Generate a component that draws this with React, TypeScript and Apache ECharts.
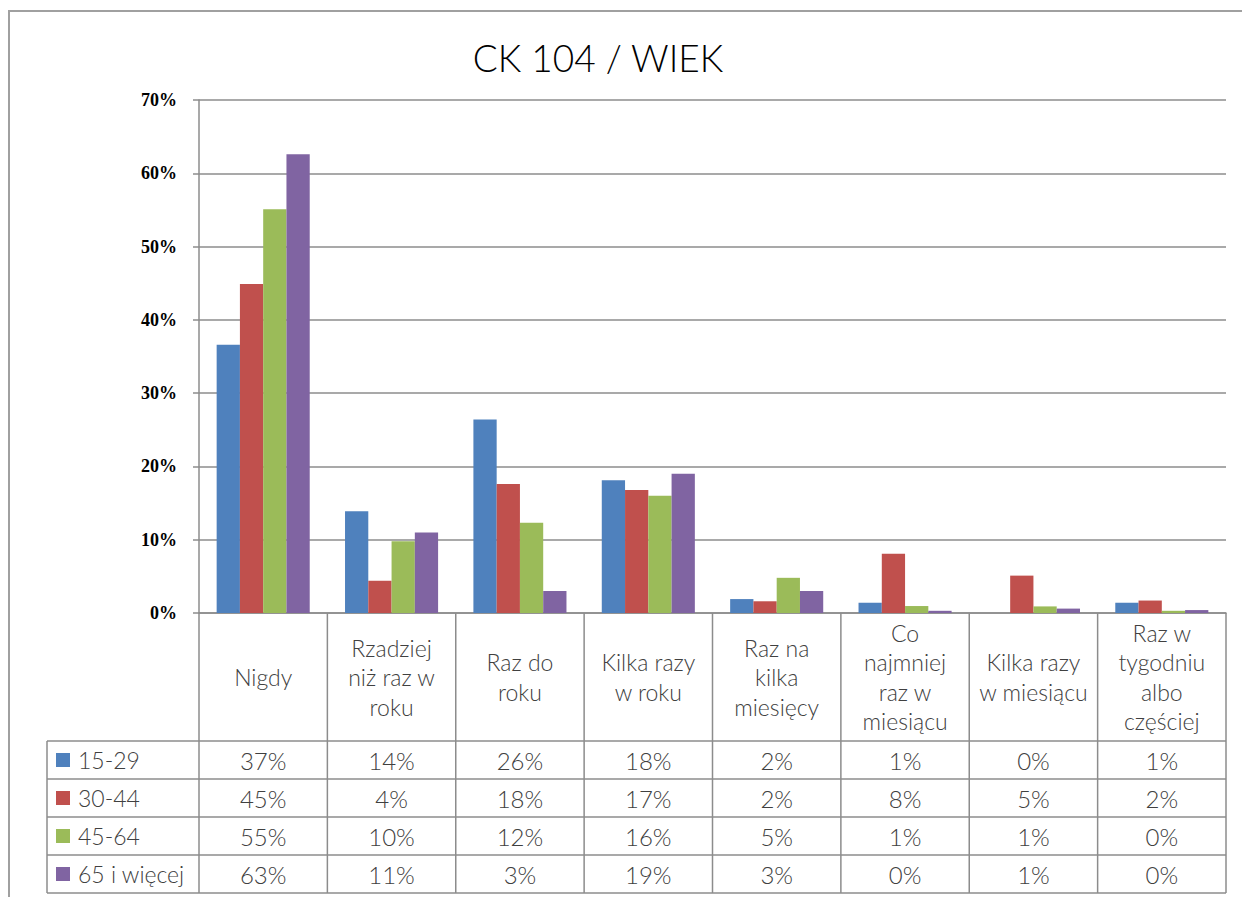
import React, { useEffect, useRef } from "react";
import * as echarts from "echarts";

const title = "CK 104 / WIEK";
const categories = [
  "Nigdy",
  "Rzadziej\nniż raz w\nroku",
  "Raz do\nroku",
  "Kilka razy\nw roku",
  "Raz na\nkilka\nmiesięcy",
  "Co\nnajmniej\nraz w\nmiesiącu",
  "Kilka razy\nw miesiącu",
  "Raz w\ntygodniu\nalbo\nczęściej",
];
const seriesNames = ["15-29", "30-44", "45-64", "65 i więcej"];
const seriesColors = ["#4F81BD", "#C0504D", "#9BBB59", "#8064A2"];
const values15_29 = [36.6, 13.9, 26.4, 18.1, 1.9, 1.4, 0, 1.4];
const values30_44 = [44.9, 4.4, 17.6, 16.8, 1.6, 8.1, 5.1, 1.7];
const values45_64 = [55.1, 9.8, 12.3, 16.0, 4.8, 0.95, 0.9, 0.3];
const values65plus = [62.6, 11.0, 3.0, 19.0, 3.0, 0.3, 0.6, 0.4];
const allValues = [values15_29, values30_44, values45_64, values65plus];
const yMin = 0;
const yMax = 70;
const yInterval = 10;

const W = 1242;
const H = 897;
const GRID_LEFT = 199;
const GRID_RIGHT = 1226;
const GRID_TOP = 100;
const GRID_BOTTOM = 613;
const HEADER_BOTTOM = 741;
const ROW_H = 38;
const LEGEND_LEFT = 47;
const LINE_COLOR = "#8c8c8c";
const TEXT_COLOR = "#404040";
const TABLE_FONT = "Lato";

export default function App() {
  const ref = useRef<HTMLDivElement>(null);
  useEffect(() => {
    if (!ref.current) return;
    const chart = echarts.init(ref.current, undefined, { renderer: "svg" });
    const option: any = {
      animation: false,
      backgroundColor: "#ffffff",
      grid: {
        left: GRID_LEFT,
        right: W - GRID_RIGHT,
        top: GRID_TOP,
        bottom: H - GRID_BOTTOM,
        containLabel: false,
      },
      xAxis: {
        type: "category",
        data: categories,
        axisLine: { show: true, lineStyle: { color: LINE_COLOR, width: 1.5 } },
        axisTick: { show: false },
        axisLabel: {
          interval: 0,
          margin: 64,
          verticalAlign: "middle",
          align: "center",
          fontFamily: TABLE_FONT,
          fontWeight: 300,
          fontSize: 23,
          lineHeight: 29.5,
          color: TEXT_COLOR,
        },
      },
      yAxis: {
        type: "value",
        min: yMin,
        max: yMax,
        interval: yInterval,
        axisLine: { show: true, lineStyle: { color: LINE_COLOR, width: 1.5 } },
        axisTick: { show: true, length: 6, lineStyle: { color: LINE_COLOR, width: 1.5 } },
        splitLine: { show: true, lineStyle: { color: LINE_COLOR, width: 1.5 } },
        axisLabel: {
          formatter: (v: number) => `${v}%`,
          fontFamily: "Liberation Serif",
          fontWeight: "bold",
          fontSize: 18,
          color: "#000000",
          margin: 22,
        },
      },
      series: seriesNames.map((name, i) => ({
        name,
        type: "bar",
        data: allValues[i],
        barGap: "0%",
        barCategoryGap: "27.5%",
        itemStyle: { color: seriesColors[i] },
      })),
    };
    chart.setOption(option);

    const centers = categories.map((_, i) =>
      chart.convertToPixel({ xAxisIndex: 0 }, i) as number
    );
    const band = (GRID_RIGHT - GRID_LEFT) / categories.length;
    const tableBottom = HEADER_BOTTOM + ROW_H * seriesNames.length;
    const lineStyle = { stroke: LINE_COLOR, lineWidth: 1.5 };
    const graphics: any[] = [];
    graphics.push({
      type: "rect",
      silent: true,
      shape: { x: 9, y: 11, width: W + 20, height: H + 20 },
      style: { fill: "none", stroke: "#a0a0a0", lineWidth: 2 },
    });
    graphics.push({
      type: "text",
      silent: true,
      x: 598,
      y: 57,
      style: {
        text: title,
        fontFamily: TABLE_FONT,
        fontWeight: 300,
        fontSize: 37,
        fill: "#000000",
        align: "center",
        verticalAlign: "middle",
      },
    });
    for (let i = 1; i <= categories.length; i++) {
      const x = centers[i - 1] + band / 2;
      graphics.push({
        type: "line",
        silent: true,
        shape: { x1: x, y1: GRID_BOTTOM, x2: x, y2: tableBottom },
        style: lineStyle,
      });
    }
    graphics.push({
      type: "line",
      silent: true,
      shape: { x1: GRID_LEFT, y1: GRID_BOTTOM, x2: GRID_LEFT, y2: tableBottom },
      style: lineStyle,
    });
    graphics.push({
      type: "line",
      silent: true,
      shape: { x1: LEGEND_LEFT, y1: HEADER_BOTTOM, x2: LEGEND_LEFT, y2: tableBottom },
      style: lineStyle,
    });
    for (let r = 0; r <= seriesNames.length; r++) {
      const y = HEADER_BOTTOM + r * ROW_H;
      graphics.push({
        type: "line",
        silent: true,
        shape: { x1: LEGEND_LEFT, y1: y, x2: GRID_RIGHT, y2: y },
        style: lineStyle,
      });
    }
    seriesNames.forEach((name, r) => {
      const cy = HEADER_BOTTOM + r * ROW_H + ROW_H / 2;
      graphics.push({
        type: "rect",
        silent: true,
        shape: { x: 56, y: cy - 7, width: 14, height: 14 },
        style: { fill: seriesColors[r] },
      });
      graphics.push({
        type: "text",
        silent: true,
        x: 78,
        y: cy,
        style: {
          text: name,
          fontFamily: TABLE_FONT,
          fontWeight: 300,
          fontSize: 23,
          fill: TEXT_COLOR,
          verticalAlign: "middle",
          align: "left",
        },
      });
      allValues[r].forEach((v, c) => {
        graphics.push({
          type: "text",
          silent: true,
          x: centers[c],
          y: cy,
          style: {
            text: `${Math.round(v)}%`,
            fontFamily: TABLE_FONT,
            fontWeight: 300,
            fontSize: 24,
            fill: TEXT_COLOR,
            verticalAlign: "middle",
            align: "center",
          },
        });
      });
    });
    chart.setOption({ graphic: { elements: graphics } });
    return () => chart.dispose();
  }, []);
  return (
    <div
      ref={ref}
      style={{ position: "fixed", left: 0, top: 0, width: W, height: H, background: "#fff" }}
    />
  );
}
